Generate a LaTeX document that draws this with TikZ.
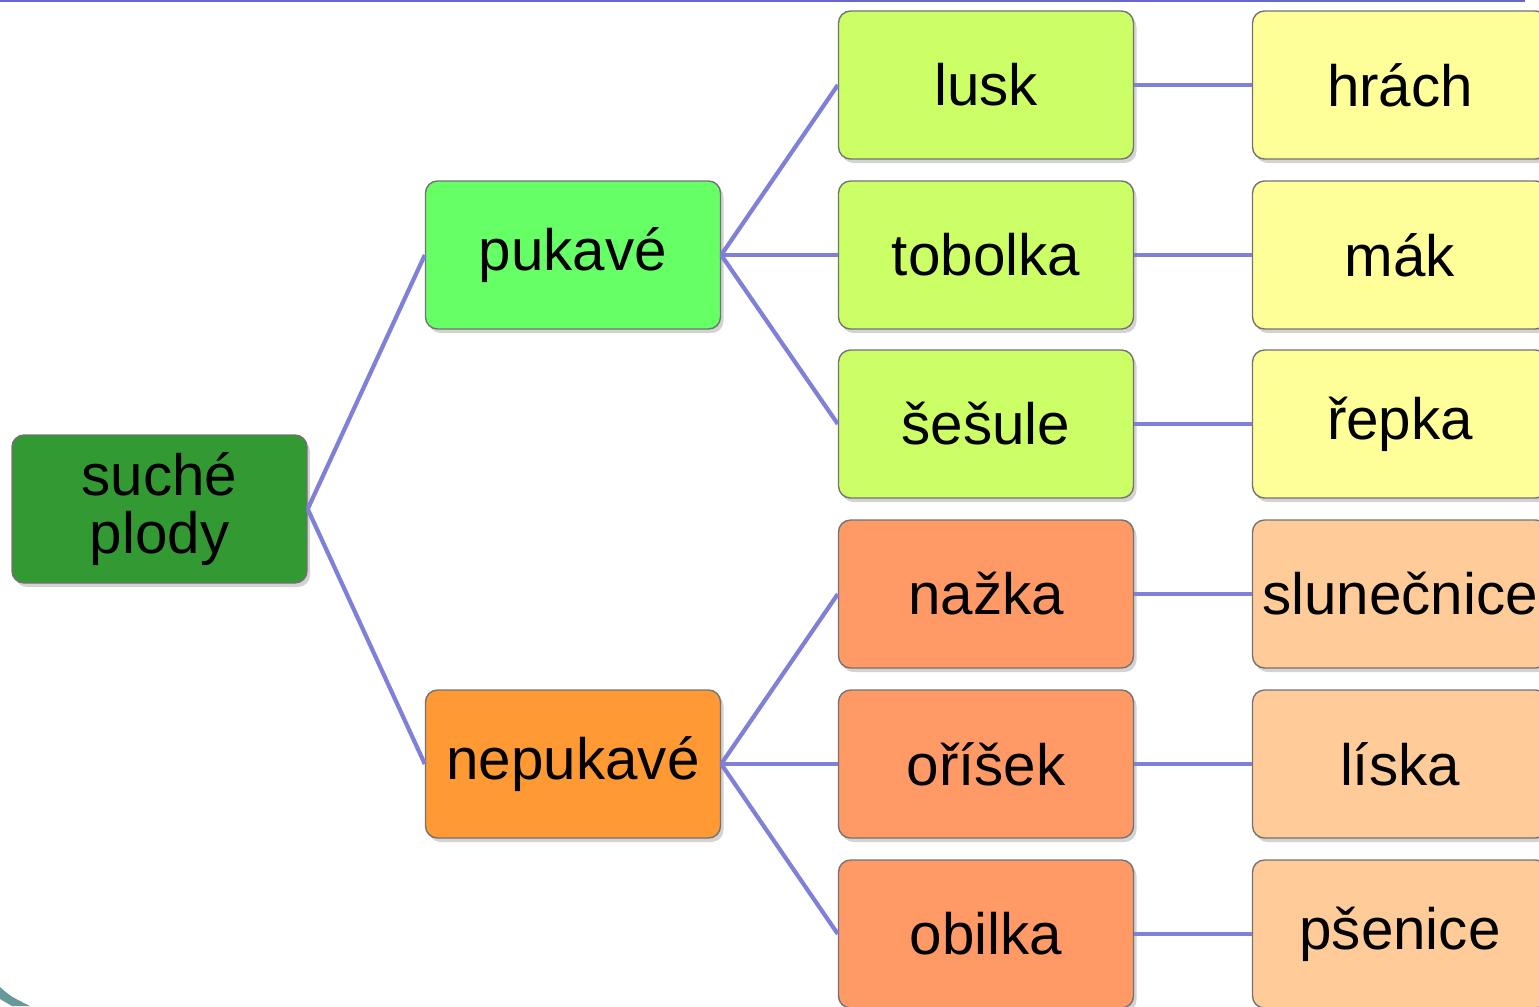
\documentclass[tikz,border=0pt]{standalone}
\usepackage{fontspec}
\setmainfont{Liberation Sans}
\usetikzlibrary{shadows}
\definecolor{spojc}{RGB}{128,128,216}
\definecolor{linka}{RGB}{102,102,204}
\definecolor{oblouk}{RGB}{102,153,153}
\definecolor{tmzel}{RGB}{51,153,51}
\definecolor{svzel}{RGB}{102,255,102}
\definecolor{oranz}{RGB}{255,153,51}
\definecolor{zlutozel}{RGB}{204,255,102}
\definecolor{losos}{RGB}{255,153,102}
\definecolor{zluta}{RGB}{255,255,153}
\definecolor{meruna}{RGB}{255,204,153}
\begin{document}
\begin{tikzpicture}[x=1cm,y=1cm,
	box/.style={draw=black!55,line width=0.4pt,rounded corners=0.12cm,minimum width=2.95cm,minimum height=1.48cm,inner sep=0pt,align=center,font=\fontsize{16.6}{16.4}\selectfont,drop shadow={shadow xshift=0.03cm,shadow yshift=-0.04cm,opacity=0.35}},
	spoj/.style={color=spojc,line width=1.2pt}]
	\useasboundingbox (0,0) rectangle (15.39,10.06);
	% okraj snimku
	\draw[color=linka,line width=0.7pt] (0,10.05) -- (15.25,10.05);
	\fill[color=oblouk] (0,0.19) .. controls (0.1,0.1) .. (0.3,0) -- (0.12,0) .. controls (0.06,0.03) .. (0,0.07) -- cycle;
	% uzly
	\node[box,fill=tmzel] (plody) at (1.595,4.97) {suché\\plody};
	\node[box,fill=svzel] (pukave) at (5.73,7.51) {pukavé};
	\node[box,fill=oranz] (nepukave) at (5.73,2.42) {nepukavé};
	\foreach \jm/\txt/\y in {lusk/lusk/9.21,tobolka/tobolka/7.51,sesule/šešule/5.82}
		\node[box,fill=zlutozel] (\jm) at (9.86,\y) {\txt};
	\foreach \jm/\txt/\y in {nazka/nažka/4.12,orisek/oříšek/2.42,obilka/obilka/0.72}
		\node[box,fill=losos] (\jm) at (9.86,\y) {\txt};
	\foreach \jm/\txt/\y in {hrach/hrách/9.21,mak/mák/7.51,repka/řepka/5.82}
		\node[box,fill=zluta] (\jm) at (14.00,\y) {\txt};
	\foreach \jm/\txt/\y in {slunecnice/slunečnice/4.12,liska/líska/2.42,psenice/pšenice/0.72}
		\node[box,fill=meruna] (\jm) at (14.00,\y) {\txt};
	% spojnice
	\draw[spoj] (plody.east) -- (pukave.west);
	\draw[spoj] (plody.east) -- (nepukave.west);
	\foreach \a/\b in {pukave/lusk,pukave/tobolka,pukave/sesule,nepukave/nazka,nepukave/orisek,nepukave/obilka,lusk/hrach,tobolka/mak,sesule/repka,nazka/slunecnice,orisek/liska,obilka/psenice}
		\draw[spoj] (\a.east) -- (\b.west);
\end{tikzpicture}
\end{document}
